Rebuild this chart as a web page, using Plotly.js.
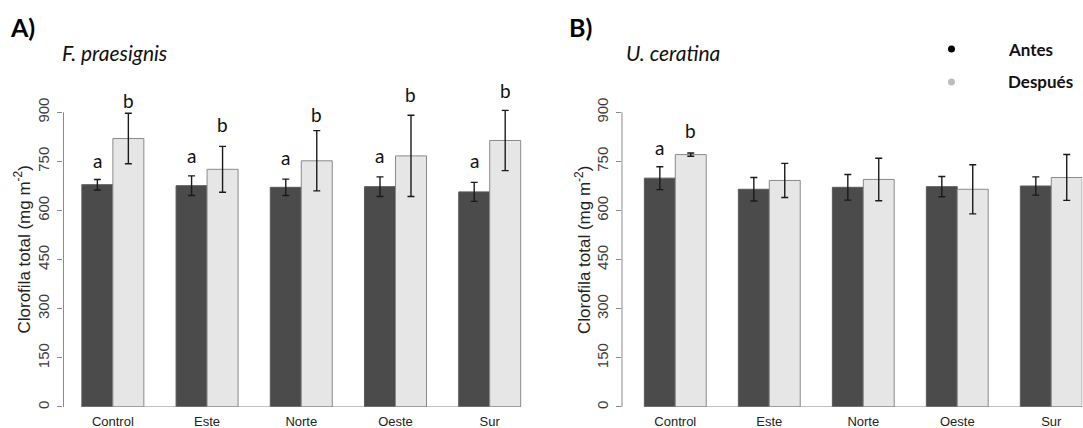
<!DOCTYPE html>
<html>
<head>
<meta charset="utf-8">
<script src="https://cdn.plot.ly/plotly-3.0.1.min.js"></script>
<style>
  html, body { margin: 0; padding: 0; background: #fff; }
  #chart { width: 1083px; height: 428px; }
</style>
</head>
<body>
<div id="chart"></div>
<script>
// Sites sampled
const categories = ['Control', 'Este', 'Norte', 'Oeste', 'Sur'];

// F. praesignis: total chlorophyll (mg m-2), mean and error
const praesignisAntes = [679, 676, 671, 673, 657];
const praesignisAntesErr = [16, 30, 25, 30, 29];
const praesignisDespues = [820, 726, 752, 767, 814];
const praesignisDespuesErr = [77, 70, 92, 124, 92];

// U. ceratina: total chlorophyll (mg m-2), mean and error
const ceratinaAntes = [699, 665, 671, 673, 675];
const ceratinaAntesErr = [35, 36, 39, 31, 28];
const ceratinaDespues = [771, 692, 695, 665, 701];
const ceratinaDespuesErr = [5, 52, 65, 75, 70];

// Significance letters and the height at which each sits
const praesignisLetrasAntes = ['a', 'a', 'a', 'a', 'a'];
const praesignisLetrasAntesY = [754, 769, 762, 769, 754];
const praesignisLetrasDespues = ['b', 'b', 'b', 'b', 'b'];
const praesignisLetrasDespuesY = [937, 864, 894, 955, 966];
const ceratinaLetrasAntes = ['a', '', '', '', ''];
const ceratinaLetrasAntesY = [792, 0, 0, 0, 0];
const ceratinaLetrasDespues = ['b', '', '', '', ''];
const ceratinaLetrasDespuesY = [844, 0, 0, 0, 0];

const yTicks = [0, 150, 300, 450, 600, 750, 900];
const seriesNames = ['Antes', 'Después'];

const DARK = '#4b4b4b';
const LIGHT = '#e6e6e6';
const BARGAP = 0.342;
const half = (1 - BARGAP) / 2;   // width of one bar in category units

function barTrace(name, y, err, fill, edge, xa, ya) {
  return {
    type: 'bar', name: name, x: categories, y: y,
    xaxis: xa, yaxis: ya, showlegend: false, cliponaxis: false,
    marker: { color: fill, line: { color: edge, width: 1 } },
    error_y: { type: 'data', array: err, visible: true, color: '#1a1a1a', thickness: 1.4, width: 3.5 },
    hoverinfo: 'skip'
  };
}

const data = [
  barTrace(seriesNames[0], praesignisAntes, praesignisAntesErr, DARK, '#5a5a5a', 'x', 'y'),
  barTrace(seriesNames[1], praesignisDespues, praesignisDespuesErr, LIGHT, '#8a8a8a', 'x', 'y'),
  barTrace(seriesNames[0], ceratinaAntes, ceratinaAntesErr, DARK, '#5a5a5a', 'x2', 'y2'),
  barTrace(seriesNames[1], ceratinaDespues, ceratinaDespuesErr, LIGHT, '#8a8a8a', 'x2', 'y2')
];

const yDomain = [0.049065, 0.814019];

function yAxis(anchor) {
  return {
    anchor: anchor, domain: yDomain, range: [0, 1000],
    tickvals: yTicks, ticktext: yTicks.map(String),
    ticks: 'outside', ticklen: 5, tickcolor: '#8a8a8a', tickwidth: 1,
    tickangle: -90, ticklabelstandoff: 2,
    tickfont: { family: 'Liberation Sans, Arial, sans-serif', size: 15, color: '#3c3c3c' },
    showline: false, showgrid: false, zeroline: false, fixedrange: true
  };
}

function xAxis(anchor, domain, range) {
  return {
    anchor: anchor, domain: domain, type: 'category', range: range,
    ticks: '', showline: false, showgrid: false, zeroline: false,
    ticklabelstandoff: 5,
    tickfont: { family: 'Liberation Sans, Arial, sans-serif', size: 13, color: '#222' },
    fixedrange: true
  };
}

const shapes = [];
const annotations = [];

// Axis spines (0–900 only) and bar baselines for each panel
[['x', 'y'], ['x2', 'y2']].forEach(([xa, ya]) => {
  shapes.push({ type: 'line', xref: xa + ' domain', yref: ya, x0: 0, x1: 0,
    y0: yTicks[0], y1: yTicks[yTicks.length - 1], line: { color: '#8a8a8a', width: 1 } });
  shapes.push({ type: 'line', xref: xa, yref: ya, x0: -half, x1: categories.length - 1 + half,
    y0: 0, y1: 0, line: { color: '#8a8a8a', width: 1 } });
});

function addLetters(letters, ys, offset, xa, ya) {
  letters.forEach((t, i) => {
    if (!t) return;
    annotations.push({ xref: xa, yref: ya, x: i + offset, y: ys[i], text: t,
      showarrow: false, xanchor: 'center', yanchor: 'middle',
      font: { family: 'Lato, sans-serif', size: 19, color: '#111' } });
  });
}
addLetters(praesignisLetrasAntes, praesignisLetrasAntesY, -half / 2, 'x', 'y');
addLetters(praesignisLetrasDespues, praesignisLetrasDespuesY, half / 2, 'x', 'y');
addLetters(ceratinaLetrasAntes, ceratinaLetrasAntesY, -half / 2, 'x2', 'y2');
addLetters(ceratinaLetrasDespues, ceratinaLetrasDespuesY, half / 2, 'x2', 'y2');

const W = 1083, H = 428;
function paperText(px, py, text, font, extra) {
  annotations.push(Object.assign({ xref: 'paper', yref: 'paper', x: px / W, y: 1 - py / H,
    text: text, showarrow: false, font: font, xanchor: 'left', yanchor: 'middle' }, extra || {}));
}

// Panel labels and species names
paperText(8, 27, '<b>A)</b>', { family: 'Lato, sans-serif', size: 25, color: '#000' });
paperText(567, 27, '<b>B)</b>', { family: 'Lato, sans-serif', size: 25, color: '#000' });
paperText(60, 52, '<i>F. praesignis</i>', { family: 'Lato, sans-serif', size: 21, color: '#111' });
paperText(624, 52, '<i>U. ceratina</i>', { family: 'Lato, sans-serif', size: 21, color: '#111' });

// Y-axis titles
const yTitle = 'Clorofila total (mg m<sup>-2</sup>)';
const yTitleFont = { family: 'Liberation Sans, Arial, sans-serif', size: 17, color: '#222' };
paperText(22.5, 250, yTitle, yTitleFont, { xanchor: 'center', textangle: -90 });
paperText(583, 250, yTitle, yTitleFont, { xanchor: 'center', textangle: -90 });

// Legend: dot + bold label
const legendRows = [[49, '#000', seriesNames[0]], [82, '#bdbdbd', seriesNames[1]]];
legendRows.forEach(([py, col, name]) => {
  const r = 3.5;
  shapes.push({ type: 'circle', xref: 'paper', yref: 'paper',
    x0: (951.5 - r) / W, x1: (951.5 + r) / W, y0: 1 - (py + r) / H, y1: 1 - (py - r) / H,
    fillcolor: col, line: { width: 0 } });
  paperText(1006, py, '<b>' + name + '</b>', { family: 'Lato, sans-serif', size: 17, color: '#111' });
});

const layout = {
  width: W, height: H,
  margin: { l: 0, r: 0, t: 0, b: 0 },
  paper_bgcolor: '#fff', plot_bgcolor: 'rgba(0,0,0,0)',
  barmode: 'group', bargap: BARGAP, bargroupgap: 0,
  showlegend: false,
  xaxis: xAxis('y', [0.05863, 0.49566], [-0.524, 4.5]),
  yaxis: yAxis('x'),
  xaxis2: xAxis('y2', [0.57433, 0.99935], [-0.567, 4.33]),
  yaxis2: yAxis('x2'),
  shapes: shapes,
  annotations: annotations
};

Plotly.newPlot('chart', data, layout, { displayModeBar: false, staticPlot: true });
</script>
</body>
</html>
